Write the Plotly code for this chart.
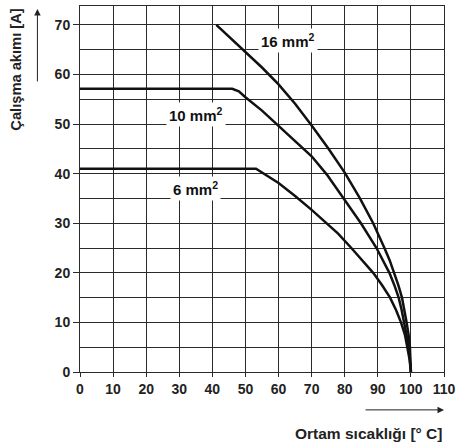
import plotly.graph_objects as go

# ambient temperature [°C] vs. current [A] for each cross-section
x_6 = [0, 53.2, 60, 65, 70, 74.6, 78, 82, 88.6, 91.3, 93.7, 95.5, 97, 98.2, 99, 99.6, 100]
y_6 = [41, 41, 38.1, 35.5, 32.7, 30.0, 27.9, 25, 20, 17.5, 15, 12.5, 10, 7.5, 5, 2.5, 0]

x_10 = [0, 46, 48, 50, 55, 60, 65, 70, 74.6, 79.6, 84.9, 89.6, 91.6, 93.5, 95, 96.3, 97.2, 98, 98.8, 99.4, 100]
y_10 = [57.1, 57.1, 56.6, 55.4, 52.7, 49.7, 46.7, 43.5, 39.8, 35, 30, 25, 22.5, 20, 17.5, 15, 12.5, 10, 7.5, 5, 0]

x_16 = [41.2, 45, 50, 55, 60, 65, 70, 75, 80, 84.6, 88.6, 90.4, 92, 93.6, 95, 96.2, 97.3, 98.1, 98.7, 99.3, 99.7, 100]
y_16 = [70, 67.6, 64.5, 61.4, 58, 54.1, 49.7, 45.1, 40.2, 35, 30, 27.5, 25, 22.5, 20, 17.5, 15, 12.5, 10, 7.5, 5, 0]

labels = ["6 mm<sup>2</sup>", "10 mm<sup>2</sup>", "16 mm<sup>2</sup>"]
label_pos = [(35, 37), (35.2, 52), (62.9, 66.8)]

x_ticks = list(range(0, 111, 10))
y_ticks = list(range(0, 71, 10))

FONT = "Liberation Sans"
grid = "#2a2a2a"

fig = go.Figure()
for xs, ys in [(x_6, y_6), (x_10, y_10), (x_16, y_16)]:
    fig.add_trace(go.Scatter(x=xs, y=ys, mode="lines",
                             line=dict(color="#111", width=2.5),
                             hoverinfo="skip"))

for text, (lx, ly) in zip(labels, label_pos):
    fig.add_annotation(x=lx, y=ly, text=text, showarrow=False,
                       bgcolor="white", borderpad=2,
                       font=dict(family=FONT, size=15, color="#111", weight="bold"))

fig.update_layout(
    width=461, height=448,
    margin=dict(l=80, r=13, t=5, b=76),
    plot_bgcolor="white", paper_bgcolor="white",
    showlegend=False,
    xaxis=dict(range=[0, 110], tickvals=x_ticks, showgrid=True,
               gridcolor=grid, gridwidth=1, zeroline=False,
               showline=True, linecolor=grid, linewidth=1, mirror=True,
               ticks="outside", ticklen=4, tickcolor=grid,
               tickfont=dict(family=FONT, size=14, color="#222", weight="bold")),
    yaxis=dict(range=[0, 73.8], tickvals=y_ticks, showgrid=True,
               gridcolor=grid, gridwidth=1, zeroline=False,
               showline=True, linecolor=grid, linewidth=1, mirror=True,
               ticks="outside", ticklen=6, tickcolor=grid,
               minor=dict(dtick=5, tick0=0, showgrid=True,
                          gridcolor=grid, gridwidth=1),
               tickfont=dict(family=FONT, size=14, color="#222", weight="bold")),
)

# axis titles with arrows
fig.add_annotation(xref="paper", yref="paper", x=-0.178, y=1.0,
                   xanchor="center", yanchor="top", textangle=-90,
                   text="Çalışma akımı [A]", showarrow=False,
                   font=dict(family=FONT, size=14.7, color="#222", weight="bold"))
fig.add_annotation(xref="paper", yref="paper", x=1.0, y=-0.1676,
                   xanchor="right", yanchor="middle",
                   text="Ortam sıcaklığı [° C]", showarrow=False,
                   font=dict(family=FONT, size=15.5, color="#222", weight="bold"))
fig.add_annotation(xref="paper", yref="paper", x=-0.117, y=0.992,
                   ax=0, ay=74, text="", showarrow=True, arrowhead=2,
                   arrowsize=1.3, arrowwidth=1, arrowcolor="#222")
fig.add_annotation(xref="paper", yref="paper", x=1.0, y=-0.1035,
                   ax=-80, ay=0, text="", showarrow=True, arrowhead=2,
                   arrowsize=1.3, arrowwidth=1, arrowcolor="#222")

# page body has a default 8px margin; drop it so the figure fills the window
fig.write_html("out.html", config={"displayModeBar": False},
               post_script="document.body.style.margin='0';")
